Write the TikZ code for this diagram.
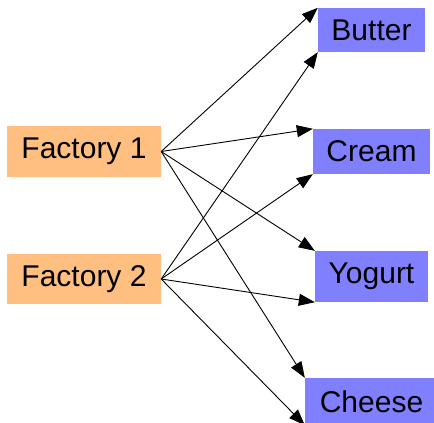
\documentclass[tikz,border=0pt]{standalone}
\usepackage{fontspec}
\setmainfont{Liberation Sans}
\usetikzlibrary{arrows.meta}
\definecolor{factoryfill}{RGB}{255,191,128}
\definecolor{productfill}{RGB}{128,128,255}
\begin{document}
\begin{tikzpicture}[x=1pt,y=-1pt,
  box/.style={rectangle,inner sep=0pt,font=\fontsize{30}{35}\selectfont},
  factory/.style={box,fill=factoryfill},
  product/.style={box,fill=productfill},
  link/.style={draw=black,line width=0.9pt,-{Triangle[length=16pt,width=12pt]}}]
\useasboundingbox (0,0) rectangle (434,423);
\node[factory,minimum width=154pt,minimum height=51pt] (f1) at (84,151.5) {Factory 1};
\node[factory,minimum width=154pt,minimum height=50pt] (f2) at (84,279) {Factory 2};
\node[product,minimum width=107pt,minimum height=44pt] (butter) at (371.5,30) {Butter};
\node[product,minimum width=117pt,minimum height=45pt] (cream) at (371.5,151.5) {Cream};
\node[product,minimum width=113pt,minimum height=51pt] (yogurt) at (371.5,276.5) {Yogurt};
\node[product,minimum width=133pt,minimum height=47pt] (cheese) at (371.5,401.5) {Cheese};
\foreach \p in {butter,cream,yogurt,cheese}{
  \draw[link] (f1.east) -- (\p.north west);
  \draw[link] (f2.east) -- (\p.south west);
}
\end{tikzpicture}
\end{document}
